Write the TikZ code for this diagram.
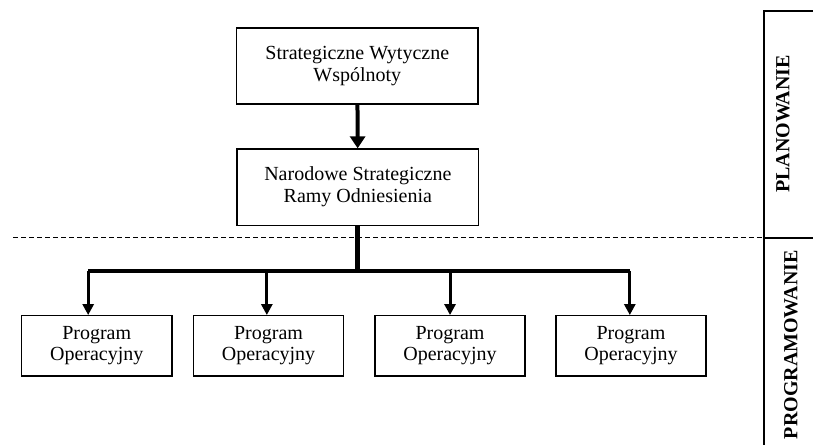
\documentclass[tikz,border=0pt]{standalone}
\usepackage{fontspec}
\setmainfont{Liberation Serif}
\usetikzlibrary{arrows.meta}

\tikzset{
    ramka/.style={draw, line width=0.7pt, align=center, inner sep=2pt, font=\fontsize{10}{11}\selectfont},
    duza/.style={ramka, minimum width=4.25cm, minimum height=1.34cm},
    mala/.style={ramka, minimum width=2.64cm, minimum height=1.06cm, font=\fontsize{10}{10.5}\selectfont},
    etap/.style={rotate=90, font=\bfseries}
}

\begin{document}
\begin{tikzpicture}
                \useasboundingbox (0,0) rectangle (14.29,-7.82);

                \node[duza] (sww) at (6.28,-1.16) {Strategiczne Wytyczne\\Wspólnoty};
                \node[duza] (nsro) at (6.29,-3.29) {Narodowe Strategiczne\\Ramy Odniesienia};

                \node[mala] (po1) at (1.70,-6.08) {Program\\Operacyjny};
                \node[mala] (po2) at (4.72,-6.08) {Program\\Operacyjny};
                \node[mala] (po3) at (7.91,-6.08) {Program\\Operacyjny};
                \node[mala] (po4) at (11.09,-6.08) {Program\\Operacyjny};

                \draw[line width=2pt, -{Triangle[width=7.5pt,length=6pt]}] (sww) -- (nsro);

                \coordinate (b1) at (1.55,-4.76);
                \coordinate (b2) at (4.69,-4.76);
                \coordinate (b3) at (7.91,-4.76);
                \coordinate (b4) at (11.07,-4.76);
                \coordinate (trzon) at (6.29,-4.76);
                \draw[line width=2.5pt] (nsro) -- (trzon);
                \draw[line width=2pt] (b1) -- (b4);
                \draw[line width=1.5pt, -{Triangle[width=5.5pt,length=5.5pt]}] (b1) -- (b1 |- po1.north);
                \draw[line width=1.5pt, -{Triangle[width=5.5pt,length=5.5pt]}] (b2) -- (b2 |- po2.north);
                \draw[line width=1.5pt, -{Triangle[width=5.5pt,length=5.5pt]}] (b3) -- (b3 |- po3.north);
                \draw[line width=1.5pt, -{Triangle[width=5.5pt,length=5.5pt]}] (b4) -- (b4 |- po4.north);

                % podzial etapow
                \coordinate (pg) at (13.43,-0.19);
                \coordinate (ps) at (13.43,-4.18);
                \coordinate (pd) at (13.43,-7.82);
                \draw[line width=0.6pt, dash pattern=on 2.5pt off 1.5pt] (0.23,-4.18) -- (ps);
                \draw[line width=1pt] (14.29,-0.19) -- (pg) -- (pd);
                \draw[line width=0.8pt] (ps) -- (14.29,-4.18);
                \node[etap] (plan) at (13.76,-2.18) {PLANOWANIE};
                \node[etap] (prog) at (13.90,-6.06) {PROGRAMOWANIE};
\end{tikzpicture}
\end{document}
